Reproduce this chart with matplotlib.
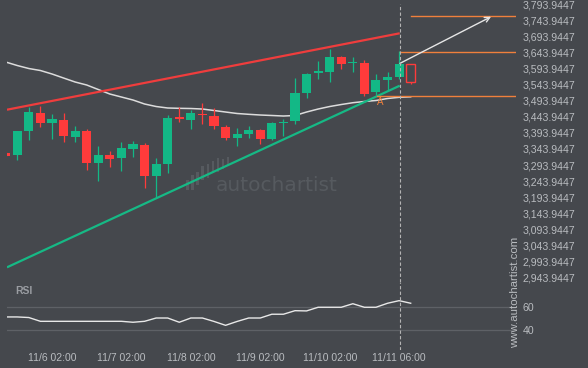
import matplotlib.pyplot as plt
from matplotlib.patches import Rectangle
import numpy as np

# colours
bg         = '#45484d'
up_col     = '#13b886'
down_col   = '#ff3b3b'
res_col    = '#ef3d3d'
sup_col    = '#16b985'
orange     = '#f0803c'
ma_col     = '#dcdcdc'
text_col   = '#b9bcc0'
grid_col   = '#5e6166'
mark_col   = '#565a5f'

# candles (4h bars, index 0..34)
opens  = [3332.1, 3325.0, 3400.5, 3455.4, 3424.4, 3433.7, 3380.9, 3399.5, 3301.1, 3325.0,
          3316.6, 3343.6, 3356.1, 3260.7, 3298.0, 3443.0, 3433.7, 3452.3, 3446.1, 3412.0,
          3378.7, 3391.2, 3402.7, 3374.7, 3424.4, 3431.5, 3518.5, 3579.7, 3583.7, 3629.4,
          3610.7, 3610.7, 3520.7, 3558.9, 3567.2]
highs  = [3333.5, 3399.5, 3475.0, 3478.1, 3452.3, 3454.5, 3415.1, 3404.8, 3352.0, 3337.4,
          3365.4, 3368.5, 3361.3, 3315.7, 3449.2, 3473.1, 3464.7, 3486.5, 3471.0, 3419.1,
          3408.8, 3415.1, 3404.8, 3427.5, 3436.8, 3563.2, 3580.6, 3617.0, 3654.2, 3632.5,
          3629.4, 3621.0, 3577.5, 3583.7, 3648.0]
lows   = [3321.5, 3310.4, 3370.7, 3412.9, 3373.7, 3364.4, 3366.3, 3277.5, 3244.2, 3286.8,
          3275.3, 3317.9, 3223.4, 3192.4, 3270.0, 3428.4, 3405.7, 3420.3, 3405.7, 3371.6,
          3353.9, 3378.7, 3358.2, 3371.6, 3385.0, 3422.2, 3501.1, 3562.0, 3552.7, 3592.1,
          3583.7, 3507.3, 3510.4, 3527.8, 3562.0]
closes = [3322.8, 3399.5, 3458.5, 3425.3, 3436.8, 3385.0, 3399.5, 3301.1, 3325.0, 3313.5,
          3346.7, 3359.2, 3260.7, 3297.1, 3439.9, 3435.9, 3455.4, 3450.1, 3416.0, 3378.7,
          3390.2, 3402.7, 3374.7, 3425.3, 3428.4, 3518.5, 3576.6, 3585.9, 3629.4, 3608.5,
          3613.8, 3515.4, 3557.9, 3567.2, 3607.6]

# forecast candle (hollow)
fc_ohlc = (3608.5, 3608.5, 3544.6, 3550.8)

# moving average (index 0..35)
ma = [3613.8, 3602.9, 3593.6, 3587.4, 3576.6, 3564.1, 3551.7, 3542.4, 3528.4, 3514.4,
      3505.1, 3495.8, 3483.4, 3475.6, 3471.0, 3470.0, 3469.4, 3467.8, 3463.2, 3458.5,
      3453.9, 3451.4, 3449.2, 3447.7, 3446.1, 3447.7, 3458.5, 3467.8, 3475.6, 3481.8,
      3487.4, 3491.2, 3494.3, 3500.5, 3504.2, 3505.7]

# RSI (index 0..35)
rsi = [51.3, 51.3, 50.8, 47.6, 47.6, 47.6, 47.6, 47.6, 47.6, 47.6,
       47.6, 46.8, 47.6, 50.4, 50.4, 46.8, 50.4, 50.4, 47.5, 44.2,
       47.5, 50.4, 50.4, 53.6, 53.6, 56.6, 56.4, 59.5, 59.5, 59.5,
       62.5, 59.5, 59.5, 62.9, 65.1, 62.9]

# pattern lines (index, price)
resistance = ([0.11, 34.05], [3465.7, 3703.0])
support    = ([0.11, 34.05], [2976.2, 3540.2])
levels     = [(35.0, 3755.8), (34.08, 3645.8), (32.07, 3507.3)]
arrow_from = (34.08, 3609.8)
arrow_to   = (41.95, 3754.5)
point_a    = (32.33, 3488.7)

now_idx = 34.05
x_ticks = [4, 10, 16, 22, 28, 34]
x_labels = ['11/6 02:00', '11/7 02:00', '11/8 02:00', '11/9 02:00',
            '11/10 02:00', '11/11 06:00']
y_ticks = [2943.9447 + 50 * i for i in range(18)]
rsi_ticks = [40, 60]

plt.rcParams['font.family'] = ['Liberation Sans', 'DejaVu Sans']

W, H = 588, 368
fig = plt.figure(figsize=(W / 100, H / 100), dpi=100)
fig.patch.set_facecolor(bg)

ax = fig.add_axes([7 / W, 1 - 282 / H, 509 / W, 282 / H])
ax_r = fig.add_axes([7 / W, 1 - 350 / H, 509 / W, 68 / H], sharex=ax)

for a in (ax, ax_r):
    a.set_facecolor(bg)
    for s in a.spines.values():
        s.set_visible(False)
    a.yaxis.tick_right()
    a.tick_params(axis='y', length=0, pad=4.8, labelsize=7.6, colors=text_col)

ax.set_xlim(0.112, 44.1)
ax.set_ylim(2930.6, 3806.4)
ax_r.set_ylim(23.3, 80.9)

# candles
idx = np.arange(len(opens))
body_w = 0.78
for k in idx:
    o, h, l, c = opens[k], highs[k], lows[k], closes[k]
    col = up_col if c >= o else down_col
    ax.vlines(k, l, h, color=col, lw=0.9, zorder=3)
    hgt = max(abs(c - o), 3.0)
    ax.add_patch(Rectangle((k - body_w / 2, min(o, c)), body_w, hgt,
                           facecolor=col, edgecolor='none', zorder=4))

# forecast hollow candle
fo, fh, fl, fcl = fc_ohlc
fk = len(opens)
ax.vlines(fk, fl, fcl, color=down_col, lw=0.9, zorder=3)
ax.add_patch(Rectangle((fk - body_w / 2, fcl), body_w, fo - fcl,
                       facecolor='none', edgecolor=down_col, lw=1.0, zorder=4))

# moving average
ax.plot(np.arange(len(ma)), ma, color=ma_col, lw=1.1, zorder=2)

# trend lines
ax.plot(resistance[0], resistance[1], color=res_col, lw=1.6, zorder=5,
        solid_capstyle='butt')
ax.plot(support[0], support[1], color=sup_col, lw=1.6, zorder=5,
        solid_capstyle='butt')

# key levels
for x0, lv in levels:
    ax.plot([x0, 44.1], [lv, lv], color=orange, lw=1.0, zorder=5)
ax.text(point_a[0], point_a[1], 'A', color=orange, fontsize=7,
        ha='center', va='center', zorder=6)

# forecast arrow
ax.annotate('', xy=arrow_to, xytext=arrow_from,
            arrowprops=dict(arrowstyle='->', color='#e6e6e6', lw=1.0,
                            mutation_scale=9, shrinkA=0, shrinkB=0), zorder=6)

# current time marker
ax.axvline(now_idx, ymax=1 - 4 / 282, color='#b4b4b4', lw=0.8,
           ls=(0, (3, 2)), zorder=6)
ax_r.axvline(now_idx, color='#b4b4b4', lw=0.8, ls=(0, (3, 2)), zorder=6)

# watermark
ax.text(0.411, 0.342, 'autochartist', transform=ax.transAxes, color=mark_col,
        fontsize=14.5, family='DejaVu Sans', ha='left', va='center', zorder=1)
bar_x = [0.352, 0.362, 0.372, 0.382, 0.392, 0.402, 0.412, 0.422, 0.432]
bar_lo = [0.325, 0.325, 0.345, 0.36, 0.37, 0.385, 0.39, 0.40, 0.41]
bar_hi = [0.36, 0.38, 0.39, 0.41, 0.42, 0.43, 0.44, 0.435, 0.445]
for bx, b0, b1 in zip(bar_x, bar_lo, bar_hi):
    ax.add_patch(Rectangle((bx, b0), 0.005, b1 - b0, transform=ax.transAxes,
                           facecolor=mark_col, edgecolor='none', zorder=1))

ax.set_yticks(y_ticks)
ax.set_yticklabels(['{:,.4f}'.format(v) for v in y_ticks])
ax.tick_params(axis='x', bottom=False, labelbottom=False)

# RSI panel
ax_r.plot(np.arange(len(rsi)), rsi, color='#e8e8e8', lw=1.0, zorder=3)
for lv in rsi_ticks:
    ax_r.axhline(lv, color=grid_col, lw=0.9, zorder=1)
ax_r.set_yticks(rsi_ticks)
ax_r.set_yticklabels([str(v) for v in rsi_ticks])
ax_r.set_xticks(x_ticks)
ax_r.set_xticklabels(x_labels)
ax_r.tick_params(axis='x', length=0, pad=2.0, labelsize=7.5, colors=text_col)
fig.text(15 / W, 1 - 291 / H, 'RSI', color='#9a9da2', fontsize=7.5,
         fontweight='bold', ha='left', va='center')

fig.text(515 / W, 1 - 292 / H, 'www.autochartist.com', color=text_col,
         fontsize=8.2, rotation=90, ha='center', va='center')

fig.savefig('out.png', dpi=100, facecolor=bg)
